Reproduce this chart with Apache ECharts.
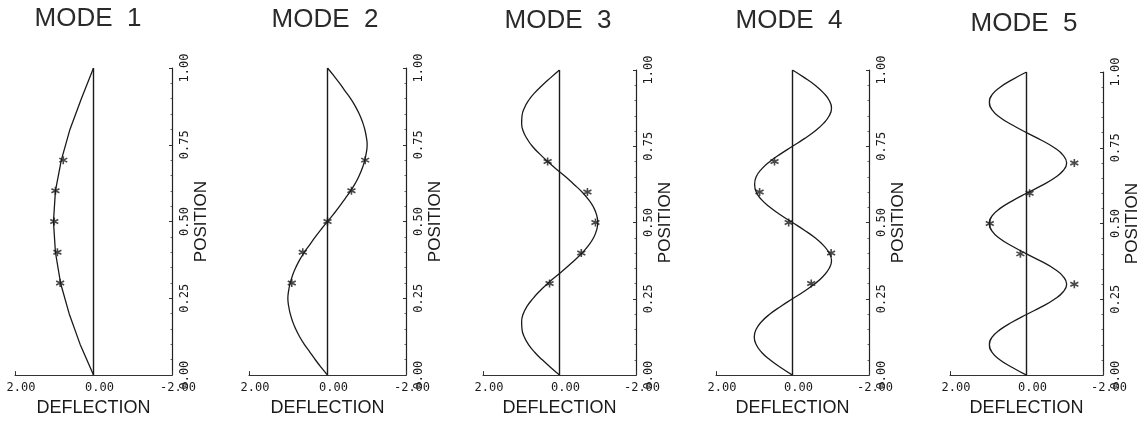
<!DOCTYPE html>
<html>
<head>
<meta charset="utf-8">
<style>
html, body { margin: 0; padding: 0; background: #fff; }
#chart { width: 1142px; height: 422px; }
</style>
<script src="https://cdn.jsdelivr.net/npm/echarts@6/dist/echarts.min.js"></script>
</head>
<body>
<div id="chart"></div>
<script>
// titles of the five panels
const modeTitles = ['MODE  1', 'MODE  2', 'MODE  3', 'MODE  4', 'MODE  5'];

// positions along the string
const coarsePos = [0, 0.1, 0.2, 0.3, 0.4, 0.5, 0.6, 0.7, 0.8, 0.9, 1.0];
const finePos = [0, 0.025, 0.05, 0.075, 0.1, 0.125, 0.15, 0.175, 0.2, 0.225, 0.25, 0.275, 0.3, 0.325, 0.35,
  0.375, 0.4, 0.425, 0.45, 0.475, 0.5, 0.525, 0.55, 0.575, 0.6, 0.625, 0.65, 0.675, 0.7, 0.725, 0.75,
  0.775, 0.8, 0.825, 0.85, 0.875, 0.9, 0.925, 0.95, 0.975, 1.0];

// deflection of the curves (mode 1 on coarsePos, the others on finePos)
const mode1 = [0, 0.34, 0.62, 0.84, 0.97, 1.02, 0.97, 0.82, 0.60, 0.31, 0];
const mode2 = [0, 0.16, 0.31, 0.45, 0.59, 0.71, 0.81, 0.89, 0.95, 0.99, 1.01, 0.99, 0.95, 0.89, 0.81, 0.71, 0.59, 0.45, 0.31, 0.16,
  0, -0.16, -0.31, -0.45, -0.59, -0.71, -0.81, -0.89, -0.95, -0.99, -1.01, -0.99, -0.95, -0.89, -0.81, -0.71, -0.59, -0.45, -0.31, -0.16, 0];
const mode3 = [0, 0.23, 0.45, 0.65, 0.81, 0.92, 0.98, 0.99, 0.95, 0.85, 0.70, 0.52, 0.31, 0.08, -0.16, -0.38, -0.59, -0.76, -0.89, -0.97,
  -1.0, -0.97, -0.89, -0.76, -0.59, -0.38, -0.16, 0.08, 0.31, 0.52, 0.71, 0.85, 0.95, 0.99, 0.98, 0.92, 0.81, 0.65, 0.45, 0.23, 0];
const mode4 = [0, 0.31, 0.59, 0.81, 0.95, 1.0, 0.95, 0.81, 0.59, 0.31, 0, -0.31, -0.59, -0.81, -0.96, -1.02, -0.96, -0.81, -0.59, -0.31,
  0, 0.31, 0.59, 0.81, 0.95, 0.99, 0.95, 0.81, 0.59, 0.31, 0, -0.31, -0.59, -0.81, -0.96, -1.02, -0.96, -0.81, -0.59, -0.31, 0];
const mode5 = [0, 0.37, 0.69, 0.90, 0.97, 0.90, 0.69, 0.37, 0, -0.39, -0.73, -0.96, -1.05, -0.96, -0.73, -0.39, 0, 0.37, 0.69, 0.90,
  0.97, 0.90, 0.69, 0.37, 0, -0.39, -0.73, -0.96, -1.05, -0.96, -0.73, -0.39, 0, 0.37, 0.69, 0.90, 0.97, 0.90, 0.69, 0.37, 0];

// measured points (stars)
const starPos = [0.3, 0.4, 0.5, 0.6, 0.7];
const stars1 = [0.85, 0.92, 1.0, 0.97, 0.77];
const stars2 = [0.91, 0.63, 0.0, -0.61, -0.96];
const stars3 = [0.26, -0.57, -0.94, -0.73, 0.31];
const stars4 = [-0.49, -1.01, 0.1, 0.86, 0.47];
const stars5 = [-1.25, 0.16, 0.96, -0.08, -1.25];

const curves = [[coarsePos, mode1], [finePos, mode2], [finePos, mode3], [finePos, mode4], [finePos, mode5]];
const stars = [stars1, stars2, stars3, stars4, stars5];

// panel layout
const panels = [
  { left: 15, top: 68, width: 157, height: 312, tx: 88, ty: 6 },
  { left: 249, top: 68, width: 157, height: 312, tx: 325, ty: 7 },
  { left: 483, top: 70, width: 153, height: 310, tx: 558, ty: 8 },
  { left: 716, top: 70, width: 153, height: 312, tx: 789, ty: 8 },
  { left: 950, top: 72, width: 153, height: 311, tx: 1024, ty: 11 }
];

const ink = '#1a1a1a';
const star = 'path://M0,-5L0,5M-4.3,-2.5L4.3,2.5M-4.3,2.5L4.3,-2.5';

const grid = [], xAxis = [], yAxis = [], series = [], graphic = [];
panels.forEach((p, i) => {
  grid.push({ left: p.left, top: p.top, width: p.width, height: p.height });
  xAxis.push({
    gridIndex: i, type: 'value', min: -2, max: 2, interval: 2, inverse: true, position: 'bottom',
    name: 'DEFLECTION', nameLocation: 'middle', nameGap: 20,
    nameTextStyle: { color: ink, fontFamily: 'Liberation Sans', fontSize: 18 },
    axisLine: { onZero: false, lineStyle: { color: '#333', width: 1 } },
    axisTick: { inside: true, length: 4, lineStyle: { color: '#333' } },
    axisLabel: { color: ink, fontFamily: 'DejaVu Sans Mono', fontSize: 12, margin: 7, padding: [0, 0, 0, 12],
      formatter: v => v.toFixed(2) },
    splitLine: { show: false }
  });
  yAxis.push({
    gridIndex: i, type: 'value', min: 0, max: 1, interval: 0.25, position: 'right',
    name: 'POSITION', nameLocation: 'middle', nameRotate: 90, nameGap: 21,
    nameTextStyle: { color: ink, fontFamily: 'Liberation Sans', fontSize: 17 },
    axisLine: { onZero: false, lineStyle: { color: '#222', width: 1.2 } },
    axisTick: { inside: true, length: 3, lineStyle: { color: '#333' } },
    minorTick: { show: true, splitNumber: 5, length: 1.5, lineStyle: { color: '#666' } },
    axisLabel: { color: ink, fontFamily: 'DejaVu Sans Mono', fontSize: 12, rotate: 90, margin: 7,
      formatter: v => v.toFixed(2) },
    splitLine: { show: false }
  });
  series.push({
    type: 'line', xAxisIndex: i, yAxisIndex: i, symbol: 'none', silent: true,
    data: [[0, 0], [0, 1]], lineStyle: { color: ink, width: 1.4 }
  });
  const c = curves[i];
  series.push({
    type: 'line', xAxisIndex: i, yAxisIndex: i, symbol: 'none', smooth: i > 0,
    data: c[0].map((pos, k) => [c[1][k], pos]), lineStyle: { color: ink, width: 1.3 }
  });
  series.push({
    type: 'scatter', xAxisIndex: i, yAxisIndex: i, symbol: star, symbolSize: 8,
    data: starPos.map((pos, k) => [stars[i][k], pos]),
    itemStyle: { color: 'transparent', borderColor: ink, borderWidth: 1.6 }
  });
  graphic.push({
    type: 'text', x: p.tx, y: p.ty,
    style: { text: modeTitles[i], fill: '#2a2a2a', fontFamily: 'Liberation Sans', fontSize: 26,
      align: 'center', verticalAlign: 'top' }
  });
});

const chart = echarts.init(document.getElementById('chart'));
chart.setOption({
  backgroundColor: '#fff',
  animation: false,
  grid, xAxis, yAxis, series, graphic
});
</script>
</body>
</html>
